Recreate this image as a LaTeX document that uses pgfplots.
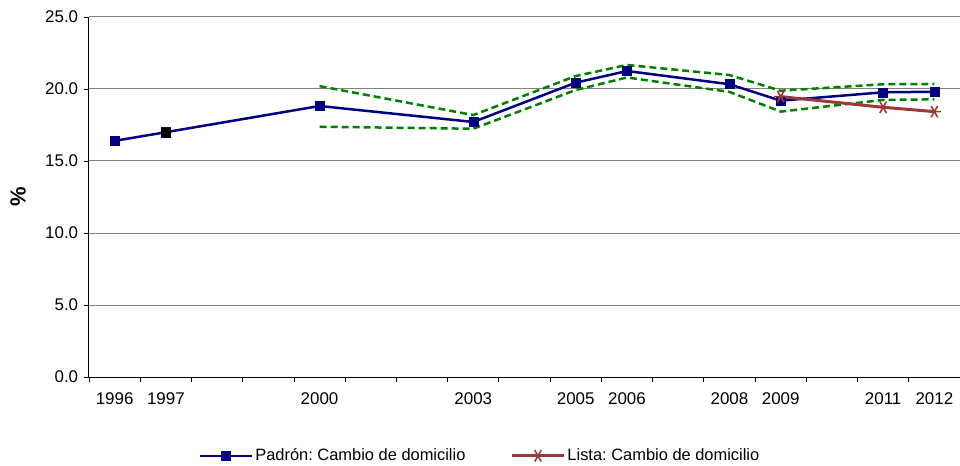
\documentclass[border=0pt]{standalone}
\usepackage{fontspec}
\setmainfont{Liberation Sans}
\usepackage{pgfplots}
\pgfplotsset{compat=1.18}
\definecolor{navyc}{RGB}{0,0,128}
\definecolor{redc}{RGB}{158,56,56}
\definecolor{greenc}{RGB}{0,128,0}
\begin{document}
\frenchspacing
\fontsize{17}{20}\selectfont
\begin{tikzpicture}
\begin{axis}[name=ax, at={(0,0)}, anchor=south west,
 scale only axis, width=871bp, height=360bp,
 xmin=1995.5, xmax=2012.5, ymin=0, ymax=25,
 axis x line*=bottom, axis y line*=left,
 axis line style={-, black, line width=1bp},
 xtick={1995.5,1996.5,1997.5,1998.5,1999.5,2000.5,2001.5,2002.5,2003.5,2004.5,2005.5,2006.5,2007.5,2008.5,2009.5,2010.5,2011.5,2012.5},
 xticklabels={},
 extra x ticks={1996,1997,2000,2003,2005,2006,2008,2009,2011,2012},
 extra x tick labels={1996,1997,2000,2003,2005,2006,2008,2009,2011,2012},
 extra x tick style={major tick length=0pt, grid=none, tick label style={yshift=-10bp}},
 ytick={0,5,10,15,20,25},
 ymajorgrids, grid style={gray, line width=1bp},
 tick align=outside, major tick length=5bp, tick style={black, line width=0.8bp},
 yticklabel style={/pgf/number format/.cd, fixed, fixed zerofill, precision=1},
 /pgf/number format/assume math mode=true,
 ylabel={\fontsize{22}{25}\selectfont\textbf{\%}},
 ylabel style={at={(axis description cs:-0.0815,0.5)}, anchor=center},
 legend style={draw=none, fill=none, at={(0.449,-0.219)}, anchor=center,
   legend columns=2, font=\fontsize{16.5}{19}\selectfont,
   /tikz/every even column/.append style={column sep=43bp}},
 legend image code/.code={\draw[mark repeat=2,mark phase=2,#1] plot coordinates {(0bp,0bp) (26bp,0bp) (52bp,0bp)};},
]
% confidence band (green dashed)
\addplot[greenc, line width=2.5bp, dash pattern=on 7bp off 4bp, forget plot] coordinates {
 (2000,20.2) (2003,18.19) (2005,20.9) (2006,21.67) (2008,20.97) (2009,19.88) (2011,20.33) (2012,20.35)};
\addplot[greenc, line width=2.5bp, dash pattern=on 7bp off 4bp, forget plot] coordinates {
 (2000,17.38) (2003,17.24) (2005,19.93) (2006,20.8) (2008,19.8) (2009,18.43) (2011,19.24) (2012,19.28)};
% Padron
\addplot[navyc, line width=2.5bp, mark=square*, mark size=4.5bp, mark options={solid, fill=navyc, line width=0.5bp}] coordinates {
 (1996,16.4) (1997,17.0) (2000,18.82) (2003,17.71) (2005,20.44) (2006,21.25) (2008,20.33) (2009,19.19) (2011,19.77) (2012,19.81)};
\addlegendentry{Padrón: Cambio de domicilio}
\addplot[only marks, black, mark=square*, mark size=4.5bp, forget plot] coordinates {(1997,17.0)};
% Lista
\addplot[redc, line width=3bp, mark=asterisk, mark size=6.5bp, mark options={solid, line width=1.6bp, rotate=90}] coordinates {
 (2009,19.47) (2011,18.73) (2012,18.43)};
\addlegendentry{Lista: Cambio de domicilio}
\end{axis}
\pgfresetboundingbox
\path[use as bounding box] (-89bp,-89bp) rectangle (871bp,377bp);
\end{tikzpicture}
\end{document}
